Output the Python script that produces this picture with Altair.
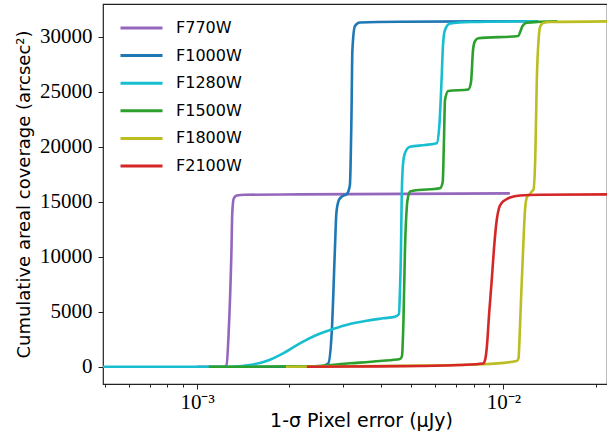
import altair as alt
import pandas as pd

series = ["F770W", "F1000W", "F1280W", "F1500W", "F1800W", "F2100W"]
colors = ["#9467bd", "#1f77b4", "#17becf", "#2ca02c", "#bcbd22", "#d62728"]

f770w_x = [1.0e-3, 1.222e-3, 1.248e-3, 1.269e-3, 1.295e-3, 1.303e-3, 1.318e-3, 1.348e-3, 1.432e-3, 2.17e-3, 1.05e-2]
f770w_y = [0, 0, 150, 3300, 10600, 14000, 15300, 15560, 15630, 15670, 15760]

f1000w_x = [1.5e-3, 2.518e-3, 2.680e-3, 2.755e-3, 2.818e-3, 2.850e-3, 2.905e-3, 2.971e-3, 3.085e-3,
            3.155e-3, 3.191e-3, 3.215e-3, 3.277e-3, 3.402e-3, 4.597e-3, 1.2e-2]
f1000w_y = [0, 0, 290, 3340, 10600, 13970, 15150, 15470, 15700,
            16520, 22430, 28790, 30970, 31290, 31360, 31400]

f1280w_x = [4.5e-4, 1.279e-3, 1.486e-3, 1.686e-3, 1.910e-3, 2.166e-3, 2.455e-3, 2.782e-3, 3.155e-3,
            3.578e-3, 4.054e-3, 4.427e-3, 4.562e-3, 4.597e-3, 4.632e-3, 4.656e-3, 4.701e-3, 4.773e-3,
            4.956e-3, 5.548e-3, 6.059e-3, 6.178e-3, 6.291e-3, 6.353e-3, 6.449e-3, 6.697e-3, 7.785e-3, 1.3e-2]
f1280w_y = [0, 0, 155, 520, 1220, 2130, 2880, 3430, 3880,
            4180, 4400, 4545, 4790, 6970, 10610, 15150, 18330, 19420,
            20000, 20150, 20310, 21820, 26360, 29240, 30610, 31200, 31330, 31400]

f1500w_x = [1.092e-3, 1.487e-3, 2.009e-3, 2.335e-3, 3.155e-3, 3.955e-3, 4.597e-3, 4.667e-3, 4.720e-3,
            4.773e-3, 4.845e-3, 4.892e-3, 4.956e-3, 5.081e-3, 6.210e-3, 6.339e-3, 6.400e-3, 6.449e-3,
            6.611e-3, 7.685e-3, 7.843e-3, 7.962e-3, 8.082e-3, 8.285e-3, 1.119e-2, 1.138e-2, 1.155e-2,
            1.192e-2, 1.318e-2, 1.5e-2]
f1500w_y = [0, 0, 30, 36, 310, 520, 700, 970, 4250,
            10610, 14700, 15520, 15910, 16000, 16220, 16790, 20610, 24240,
            25060, 25200, 25880, 28790, 29610, 29850, 30060, 30520, 30970,
            31270, 31360, 31400]

f1800w_x = [1.950e-3, 4.597e-3, 8.602e-3, 1.106e-2, 1.121e-2, 1.129e-2, 1.142e-2, 1.160e-2, 1.177e-2,
            1.195e-2, 1.223e-2, 1.241e-2, 1.253e-2, 1.272e-2, 1.286e-2, 1.303e-2, 1.318e-2, 1.348e-2,
            1.421e-2, 2.5e-2]
f1800w_y = [0, 80, 220, 520, 790, 2430, 6060, 10610, 14240,
            15430, 15700, 15970, 16060, 19240, 26060, 29700, 30880, 31240,
            31330, 31400]

f2100w_x = [2.283e-3, 3.155e-3, 5.343e-3, 7.220e-3, 8.602e-3, 8.745e-3, 8.845e-3, 8.981e-3, 9.165e-3,
            9.324e-3, 9.515e-3, 9.681e-3, 9.904e-3, 1.0205e-2, 1.0517e-2, 1.134e-2, 1.318e-2, 2.5e-2]
f2100w_y = [0, 18, 64, 155, 290, 790, 1970, 4700, 7880,
            10790, 13340, 14430, 14930, 15200, 15380, 15560, 15630, 15680]

x_major = [1e-3, 1e-2]
x_minor = [5e-4, 6e-4, 7e-4, 8e-4, 9e-4, 2e-3, 3e-3, 4e-3, 5e-3, 6e-3, 7e-3, 8e-3, 9e-3, 2e-2]
y_ticks = [0, 5000, 10000, 15000, 20000, 25000, 30000]

all_x = [f770w_x, f1000w_x, f1280w_x, f1500w_x, f1800w_x, f2100w_x]
all_y = [f770w_y, f1000w_y, f1280w_y, f1500w_y, f1800w_y, f2100w_y]

rows = []
for name, xs, ys in zip(series, all_x, all_y):
    for xv, yv in zip(xs, ys):
        rows.append({"series": name, "x": xv, "y": yv})
df = pd.DataFrame(rows)

x_ticks = sorted(x_major + x_minor)

x_scale = alt.Scale(type="log", domain=[4.93e-4, 0.0218], nice=False)
y_scale = alt.Scale(domain=[-1570, 32970], nice=False, zero=False)

major_test = "datum.value == 0.001 || datum.value == 0.01"

x_axis = alt.Axis(
    values=x_ticks,
    labelExpr="datum.value == 0.001 ? '10⁻³' : (datum.value == 0.01 ? '10⁻²' : '')",
    tickSize={"condition": {"test": major_test, "value": 5}, "value": 3},
    tickColor="#222222",
    labelOverlap=False,
    labelFlush=False,
    labelFont="Liberation Serif",
    labelFontSize=21,
    labelColor="black",
    labelPadding=2,
    grid=False,
    domain=False,
    title="1-σ Pixel error (μJy)",
    titleFont="DejaVu Sans",
    titleFontSize=19,
    titleFontWeight="normal",
    titleColor="black",
    titleX=258,
    titleY=27,
)

y_axis = alt.Axis(
    values=y_ticks,
    format="d",
    tickSize=5,
    tickColor="#222222",
    labelFont="Liberation Serif",
    labelFontSize=21,
    labelColor="black",
    labelPadding=6,
    grid=False,
    domain=False,
    title="Cumulative areal coverage (arcsec²)",
    titleFont="DejaVu Sans",
    titleFontSize=18,
    titleFontWeight="normal",
    titleColor="black",
    titlePadding=6,
)

color = alt.Color(
    "series:N",
    scale=alt.Scale(domain=series, range=colors),
    legend=alt.Legend(
        orient="none",
        legendX=16,
        legendY=16,
        title=None,
        symbolType="stroke",
        symbolSize=1764,
        symbolStrokeWidth=3,
        labelFont="DejaVu Sans",
        labelFontSize=16,
        labelColor="black",
        labelOffset=12,
        clipHeight=16,
        rowPadding=11.6,
        padding=0,
    ),
)

layers = []
for s in series:
    layers.append(
        alt.Chart(df)
        .transform_filter(alt.datum.series == s)
        .mark_line(strokeWidth=2.6, interpolate="monotone", clip=True)
        .encode(
            x=alt.X("x:Q", scale=x_scale, axis=x_axis),
            y=alt.Y("y:Q", scale=y_scale, axis=y_axis),
            color=color,
        )
    )

chart = (
    alt.layer(*layers)
    .properties(
        width=504,
        height=380,
        padding={"left": 103, "top": 4, "right": 0, "bottom": 61},
        autosize="none",
        background="white",
    )
    .configure_view(stroke="#222222", strokeWidth=1.2)
)

chart.save("out.html", embed_options={"renderer": "svg", "actions": False})
